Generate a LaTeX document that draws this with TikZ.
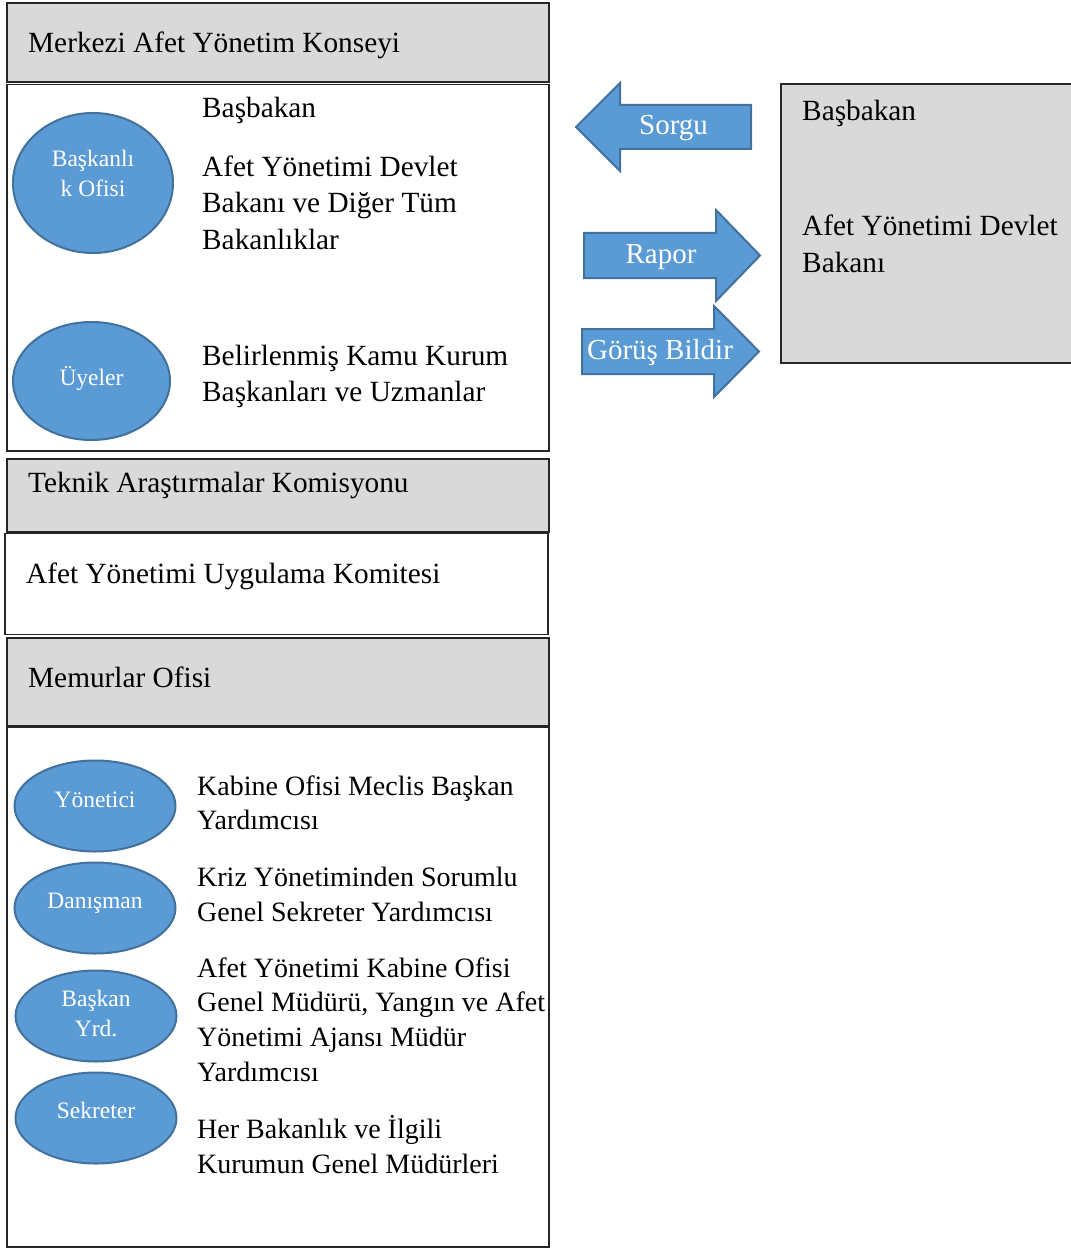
\documentclass[tikz,border=0pt]{standalone}
\usepackage{fontspec}
\setmainfont{Liberation Serif}
\usetikzlibrary{shapes.geometric}
\definecolor{panelgray}{HTML}{D9D9D9}
\definecolor{boxline}{HTML}{262626}
\definecolor{bluefill}{HTML}{5B9BD5}
\definecolor{blueline}{HTML}{41719C}
% stacked lines whose baseline is that of the first line
\newcommand\leftlines[1]{\begin{tabular}[t]{@{}l@{}}#1\end{tabular}}
\newcommand\midlines[1]{\begin{tabular}[t]{@{}c@{}}#1\end{tabular}}
\begin{document}
\begin{tikzpicture}[x=1pt,y=-1pt,
  panel/.style={draw=boxline, line width=1.4pt, fill=panelgray, anchor=north west, inner sep=0pt, outer sep=0pt},
  plain/.style={draw=boxline, line width=1.4pt, fill=white, anchor=north west, inner sep=0pt, outer sep=0pt},
  oval/.style={ellipse, draw=blueline, fill=bluefill, line width=2pt, inner sep=0pt},
  ovaltext/.style={text=white, font=\fontsize{23.5}{30}\selectfont, anchor=base, inner sep=0pt},
  label/.style={font=\fontsize{29.3}{36.5}\selectfont, anchor=base west, inner sep=0pt},
  smalllead/.style={font=\fontsize{28}{34.8}\selectfont},
  flow/.style={draw=blueline, fill=bluefill, line width=2pt, line join=miter},
  flowtext/.style={text=white, font=\fontsize{29}{35}\selectfont, anchor=base, inner sep=0pt}
]
\useasboundingbox (0,0) rectangle (1070,1249);

% --- Merkezi Afet Yonetim Konseyi ---
\path (7,3) node[panel, minimum width=542, minimum height=79] (council) {};
\node[label] (councilname) at (28,53) {Merkezi Afet Yönetim Konseyi};
\path (7,84.5) node[plain, minimum width=542, minimum height=366.5] (councilbody) {};

\node[oval, minimum width=160, minimum height=140] (presoffice) at (93,183) {};
\node[ovaltext] (presofficetext) at (93,166.5) {\midlines{Başkanlı\\k Ofisi}};
\node[oval, minimum width=157, minimum height=118] (members) at (91.5,381) {};
\node[ovaltext] (memberstext) at (91.5,385) {Üyeler};

\node[label] (pm) at (202,118) {Başbakan};
\node[label] (ministers) at (202,176.5) {\leftlines{Afet Yönetimi Devlet\\Bakanı ve Diğer Tüm\\Bakanlıklar}};
\node[label] (heads) at (202,365) {\leftlines{Belirlenmiş Kamu Kurum\\Başkanları ve Uzmanlar}};

% --- Teknik Arastirmalar Komisyonu ---
\path (7,459) node[panel, minimum width=542, minimum height=73] (tech) {};
\node[label] (techname) at (28,492) {Teknik Araştırmalar Komisyonu};

% --- Uygulama Komitesi ---
\path (5,533.5) node[plain, minimum width=543, minimum height=101] (impl) {};
\node[label] (implname) at (26,583) {Afet Yönetimi Uygulama Komitesi};

% --- Memurlar Ofisi ---
\path (7,638) node[panel, minimum width=542, minimum height=88] (staff) {};
\node[label] (staffname) at (28,687) {Memurlar Ofisi};
\path (7,727) node[plain, minimum width=542, minimum height=520] (staffbody) {};

\node[oval, minimum width=161, minimum height=91] (director) at (95,806) {};
\node[ovaltext] (directortext) at (95,807) {Yönetici};
\node[oval, minimum width=161, minimum height=91] (advisor) at (95,908) {};
\node[ovaltext] (advisortext) at (95,908) {Danışman};
\node[oval, minimum width=161, minimum height=91] (deputy) at (96,1016) {};
\node[ovaltext] (deputytext) at (96,1006.5) {\midlines{Başkan\\Yrd.}};
\node[oval, minimum width=161, minimum height=91] (secretary) at (96,1118) {};
\node[ovaltext] (secretarytext) at (96,1118) {Sekreter};

\node[label, smalllead] (directorrole) at (197,795) {\leftlines{Kabine Ofisi Meclis Başkan\\Yardımcısı}};
\node[label, smalllead] (advisorrole) at (197,886.5) {\leftlines{Kriz Yönetiminden Sorumlu\\Genel Sekreter Yardımcısı}};
\node[label, smalllead] (deputyrole) at (197,977) {\leftlines{Afet Yönetimi Kabine Ofisi\\Genel Müdürü, Yangın ve Afet\\Yönetimi Ajansı Müdür\\Yardımcısı}};
\node[label, smalllead] (secretaryrole) at (197,1138.5) {\leftlines{Her Bakanlık ve İlgili\\Kurumun Genel Müdürleri}};

% --- Basbakan / Devlet Bakani ---
\path (781,84) node[panel, minimum width=295, minimum height=279] (pmbox) {};
\node[label] (pmboxtop) at (802,120.5) {Başbakan};
\node[label] (pmboxmin) at (802,236) {\leftlines{Afet Yönetimi Devlet\\Bakanı}};

% --- block arrows ---
\draw[flow] (576,127) -- (620,83) -- (620,105) -- (751,105) -- (751,149)
  -- (620,149) -- (620,171) -- cycle;
\node[flowtext] (query) at (673.5,135) {Sorgu};
\draw[flow] (584,233) -- (716,233) -- (716,210) -- (760,255.5) -- (716,301)
  -- (716,278) -- (584,278) -- cycle;
\node[flowtext] (report) at (661,263.5) {Rapor};
\draw[flow] (582,329) -- (714,329) -- (714,306) -- (759,351.5) -- (714,397)
  -- (714,374) -- (582,374) -- cycle;
\node[flowtext] (opinion) at (660,359) {Görüş Bildir};
\end{tikzpicture}
\end{document}
